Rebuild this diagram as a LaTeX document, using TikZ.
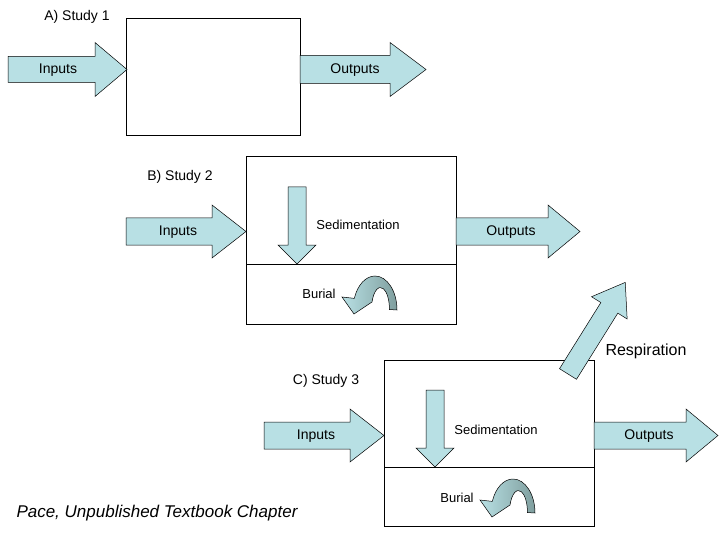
\documentclass[tikz,border=0pt]{standalone}
\usepackage{fontspec}
\setmainfont{Liberation Sans}
\begin{document}
\begin{tikzpicture}[x=1pt,y=-1pt,
  arr/.style={draw=black,fill=arrowblue,line width=0.5pt},
  box/.style={draw=black,line width=0.6pt},
  lbl/.style={font=\fontsize{14}{16}\selectfont,inner sep=0pt},
  sml/.style={font=\fontsize{13}{15}\selectfont,inner sep=0pt}]
\definecolor{arrowblue}{HTML}{B8E0E4}
\definecolor{curvedark}{HTML}{7F9E9E}
\useasboundingbox (0,0) rectangle (720,540);
\newcommand\barrow[7]{% x y length headlen bodyhalf headhalf angle
  \draw[arr,shift={(#1,#2)},rotate=#7] (0,-#5) -- (#3-#4,-#5) -- (#3-#4,-#6) -- (#3,0) -- (#3-#4,#6) -- (#3-#4,#5) -- (0,#5) -- cycle;}
\newcommand\curvarrow[2]{%
  \begin{scope}[shift={(#1,#2)}]
  \shade[left color=arrowblue,right color=curvedark,draw=black,line width=0.5pt]
   (22,0) arc[start angle=0,end angle=-160,x radius=22,y radius=34]
   -- (-33,-13) -- (-21,4) -- (-3,-8)
   arc[start angle=-160,end angle=0,x radius=9,y radius=22] -- cycle;
  \end{scope}}
% A
\draw[box] (126,18) rectangle (300,135);
\node[lbl] (ta) at (77,17) {A) Study 1};
\barrow{8}{69.5}{119}{32}{13}{27}{0}
\barrow{300}{69.5}{126}{36}{14}{27}{0}
\node[lbl] (ina) at (58,70) {Inputs};
\node[lbl] (outa) at (355,70) {Outputs};
% B
\draw[box] (246,156) rectangle (456,324);
\draw[box] (246,264) -- (456,264);
\node[lbl] (tb) at (180,177) {B) Study 2};
\barrow{126}{231.5}{120}{34}{13.5}{26.5}{0}
\barrow{456}{231.5}{124}{32}{13.5}{26.5}{0}
\node[lbl] (inb) at (178,232) {Inputs};
\node[lbl] (outb) at (511,232) {Outputs};
\barrow{297}{187}{77}{19}{9}{19}{-90}
\node[sml] (sedb) at (358,225) {Sedimentation};
\node[sml] (burb) at (319,294) {Burial};
\curvarrow{375}{310}
% C
\draw[box] (384,360) rectangle (594,526);
\draw[box] (384,467) -- (594,467);
\node[lbl] (tc) at (326,381) {C) Study 3};
\barrow{264}{435.5}{120}{34}{13.5}{26.5}{0}
\barrow{594}{435.5}{124}{32}{13.5}{26.5}{0}
\node[lbl] (inc) at (316,436) {Inputs};
\node[lbl] (outc) at (649,436) {Outputs};
\barrow{435}{390}{77}{19}{9}{19}{-90}
\node[sml] (sedc) at (496,430) {Sedimentation};
\node[sml] (burc) at (457,498) {Burial};
\curvarrow{513}{513}
% Respiration
\barrow{568}{374}{108}{30}{10}{21}{58}
\node[lbl,font=\fontsize{16}{18}\selectfont] (resp) at (646,351) {Respiration};
\node[lbl,font=\fontsize{17}{19}\selectfont\itshape] (src) at (157,513) {Pace, Unpublished Textbook Chapter};
\end{tikzpicture}
\end{document}
